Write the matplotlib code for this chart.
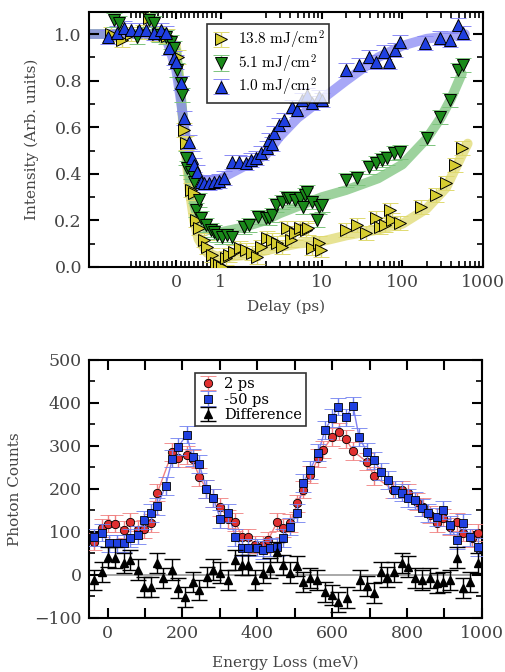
import matplotlib
matplotlib.use("Agg")
import matplotlib.pyplot as plt
import numpy as np
from matplotlib.ticker import FixedLocator, FixedFormatter, MultipleLocator

plt.rcParams["font.family"] = "serif"
plt.rcParams["font.serif"] = ["DejaVu Serif"]
plt.rcParams["mathtext.fontset"] = "cm"

# ---- top panel: intensity vs delay ----
blue_x = [-1.53, -1.33, -1.16, -1.0, -0.82, -0.67, -0.49, -0.33, -0.22, -0.16, -0.04, 0.0,
          0.11, 0.18, 0.29, 0.36, 0.40, 0.47, 0.56, 0.62, 0.73, 0.84, 0.96, 1.07, 1.24, 1.40,
          1.56, 1.67, 1.78, 1.91, 2.06, 2.18, 2.38, 2.52, 2.91, 3.37, 4.23, 4.9, 5.6, 6.6, 7.6,
          9.3, 10.0, 20, 29, 39, 47, 59, 68, 81, 93, 189, 291, 389, 489, 564]
blue_y = [0.987, 1.004, 1.026, 1.017, 1.017, 1.017, 1.004, 1.017, 1.004, 0.94, 0.897, 0.88,
          0.79, 0.64, 0.536, 0.47, 0.438, 0.408, 0.365, 0.36, 0.36, 0.365, 0.369, 0.38, 0.45, 0.45,
          0.446, 0.459, 0.47, 0.49, 0.51, 0.545, 0.53, 0.575, 0.609, 0.63, 0.687, 0.674, 0.717,
          0.738, 0.704, 0.73, 0.717, 0.845, 0.867, 0.90, 0.88, 0.923, 0.88, 0.931, 0.966, 0.961,
          0.983, 0.974, 1.04, 1.004]

green_x = [-1.38, -1.27, -0.87, -0.6, -0.49, -0.38, -0.22, -0.11, -0.04, 0.02, 0.11, 0.13,
           0.22, 0.24, 0.33, 0.40, 0.44, 0.51, 0.56, 0.67, 0.78, 0.84, 0.91, 1.02, 1.13, 1.24,
           1.51, 1.62, 1.84, 2.0, 2.18, 2.38, 2.7, 3.2, 3.7, 3.9, 4.6, 5.3, 5.8, 6.2, 6.6, 7.6,
           8.6, 9.3, 10.0, 20, 27, 39, 47, 56, 65, 78, 93, 200, 291, 389, 489, 564]
green_y = [1.06, 1.047, 0.987, 1.06, 1.047, 0.996, 0.987, 0.966, 0.94, 0.845, 0.79, 0.738,
           0.468, 0.425, 0.408, 0.365, 0.245, 0.288, 0.21, 0.18, 0.159, 0.15, 0.137, 0.129, 0.137,
           0.129, 0.17, 0.18, 0.215, 0.21, 0.21, 0.223, 0.266, 0.279, 0.296, 0.296, 0.288, 0.296,
           0.258, 0.31, 0.322, 0.279, 0.202, 0.258, 0.266, 0.373, 0.382, 0.429, 0.446, 0.459,
           0.47, 0.489, 0.493, 0.554, 0.644, 0.717, 0.845, 0.867]

yellow_x = [-1.45, -1.22, -1.0, -0.75, -0.6, -0.4, -0.2, 0.05, 0.18, 0.22, 0.33, 0.40, 0.44,
            0.51, 0.62, 0.69, 0.80, 0.89, 0.96, 1.02, 1.11, 1.18, 1.29, 1.44, 1.56, 1.69, 1.80,
            1.91, 2.06, 2.38, 2.74, 3.2, 3.7, 4.1, 4.7, 5.4, 6.3, 6.8, 7.6, 9.3, 9.8, 20, 27,
            35, 47, 53, 61, 70, 74, 93, 169, 259, 348, 455, 547]
yellow_y = [1.0, 0.974, 1.0, 1.01, 1.07, 1.0, 0.99, 0.9, 0.588, 0.532, 0.33, 0.318, 0.20,
            0.167, 0.116, 0.086, 0.05, 0.017, 0.009, 0.0, 0.039, 0.05, 0.064, 0.082, 0.073, 0.06,
            0.043, 0.086, 0.124, 0.116, 0.103, 0.086, 0.167, 0.116, 0.146, 0.167, 0.159, 0.167,
            0.082, 0.103, 0.073, 0.159, 0.18, 0.146, 0.21, 0.172, 0.18, 0.245, 0.20, 0.189,
            0.258, 0.309, 0.36, 0.438, 0.51]

# fitted curves
blue_fit_x = [-2, -0.5, -0.2, 0, 0.1, 0.2, 0.3, 0.4, 0.5, 0.7, 1, 1.5, 2, 3, 5, 10, 20, 50,
              100, 200, 600]
blue_fit_y = [1.0, 1.0, 0.97, 0.85, 0.72, 0.58, 0.47, 0.41, 0.38, 0.37, 0.38, 0.43, 0.48,
              0.56, 0.64, 0.72, 0.80, 0.90, 0.95, 0.98, 1.0]
green_fit_x = [-2, -0.3, 0, 0.1, 0.2, 0.3, 0.4, 0.5, 0.7, 1, 1.5, 2, 3, 5, 10, 20, 50, 100,
               200, 300, 400, 550]
green_fit_y = [1.0, 1.0, 0.93, 0.75, 0.55, 0.38, 0.27, 0.2, 0.16, 0.15, 0.17, 0.2, 0.23,
               0.26, 0.30, 0.33, 0.38, 0.44, 0.55, 0.64, 0.72, 0.83]
yellow_fit_x = [-2, -0.3, 0, 0.1, 0.2, 0.3, 0.4, 0.5, 0.7, 1, 1.5, 2, 3, 5, 10, 20, 50, 100,
                200, 350, 550, 650]
yellow_fit_y = [1.0, 1.0, 0.95, 0.75, 0.52, 0.33, 0.2, 0.12, 0.06, 0.04, 0.05, 0.07, 0.085,
                0.1, 0.11, 0.135, 0.16, 0.185, 0.25, 0.34, 0.48, 0.53]
top_err = 0.03

# ---- bottom panel: RIXS spectra ----
red_E = [-35, -16, 0, 21, 43, 61, 80, 96, 115, 133, 173, 189, 211, 227, 245, 264, 283, 301,
         323, 341, 360, 376, 395, 416, 429, 453, 469, 488, 507, 523, 541, 563, 576, 600, 619,
         637, 656, 693, 712, 763, 787, 803, 827, 843, 861, 880, 896, 915, 933, 949, 973, 989]
red_C = [77, 109, 119, 119, 105, 123, 105, 107, 121, 191, 286, 272, 279, 270, 228, 200, 179,
         158, 130, 123, 88, 88, 70, 70, 81, 123, 109, 121, 167, 198, 233, 272, 291, 321, 333,
         316, 288, 263, 230, 198, 198, 191, 170, 158, 140, 121, 133, 112, 123, 98, 86, 98]
blue_E = [-35, -16, 3, 24, 43, 61, 80, 96, 115, 133, 155, 173, 189, 211, 227, 245, 264, 283,
          301, 323, 341, 360, 376, 400, 416, 435, 453, 469, 488, 507, 523, 541, 563, 581, 600,
          616, 637, 656, 672, 693, 712, 731, 749, 768, 787, 803, 821, 840, 856, 880, 896, 915,
          933, 949, 968, 989]
blue_C = [88, 98, 74, 74, 74, 86, 93, 128, 144, 160, 207, 270, 298, 326, 274, 258, 200, 179,
          130, 144, 88, 63, 63, 63, 58, 63, 65, 86, 112, 144, 214, 244, 284, 337, 365, 391, 367,
          393, 321, 286, 267, 240, 221, 198, 191, 179, 174, 156, 144, 135, 151, 116, 81, 121,
          88, 65]
diff_E = [-35, -16, 0, 21, 43, 61, 80, 96, 115, 133, 149, 171, 189, 208, 229, 245, 267, 283,
          301, 323, 341, 360, 376, 395, 416, 435, 453, 469, 488, 507, 523, 541, 560, 581, 600,
          616, 640, 675, 693, 712, 731, 747, 765, 787, 803, 821, 840, 861, 880, 896, 915, 933,
          949, 968, 989]
diff_C = [-12, 7, 42, 40, 28, 35, 12, -28, -28, 28, -7, 12, -30, -51, -16, -35, -5, 12, 5,
          -12, 35, 23, 23, -12, 5, 16, 53, 23, 5, 21, -16, -7, -12, -40, -47, -63, -53, -12,
          -26, -42, 7, -5, 7, 28, 19, -7, -12, -7, -19, -16, -12, 40, -30, -16, 28]
spec_err = 20
diff_err = 24

text_col = "#444444"
fig = plt.figure(figsize=(5.05, 6.72), dpi=100)
ax1 = fig.add_axes([0.176, 0.6027, 0.780, 0.3795])
ax2 = fig.add_axes([0.176, 0.0804, 0.778, 0.384])

series = [
    (yellow_x, yellow_y, yellow_fit_x, yellow_fit_y, ">", "#d6cc30", "#e0da70", r"$\mathrm{13.8\ mJ/cm^2}$"),
    (green_x, green_y, green_fit_x, green_fit_y, "v", "#1a8a1a", "#7cc47c", r"$\mathrm{5.1\ mJ/cm^2}$"),
    (blue_x, blue_y, blue_fit_x, blue_fit_y, "^", "#1f3fe0", "#8a8af5", r"$\mathrm{1.0\ mJ/cm^2}$"),
]
for x, y, fx, fy, m, c, light, lab in series:
    ax1.plot(fx, fy, "-", color=light, lw=7, alpha=0.75, solid_capstyle="round", zorder=1)
for x, y, fx, fy, m, c, light, lab in series:
    ax1.errorbar(x, y, yerr=top_err, fmt=m, color=c, mec="k", mew=0.7, ms=8,
                 ecolor=light, elinewidth=1, capsize=6, capthick=1, label=lab, zorder=3)

ax1.set_xscale("symlog", linthresh=2, linscale=1)
ax1.set_xlim(-1.95, 1000)
ax1.set_ylim(0, 1.095)
ax1.xaxis.set_major_locator(FixedLocator([0, 1, 10, 100, 1000]))
ax1.xaxis.set_major_formatter(FixedFormatter(["0", "1", "10", "100", "1000"]))
minors = list(np.arange(-1.0, 1.0, 0.1)) + [d * 10 ** k for k in range(3) for d in range(2, 10) if d * 10 ** k >= 2]
ax1.xaxis.set_minor_locator(FixedLocator(minors))
ax1.yaxis.set_major_locator(MultipleLocator(0.2))
ax1.yaxis.set_minor_locator(MultipleLocator(0.1))
ax1.set_xlabel("Delay (ps)", fontsize=11, color=text_col, labelpad=6)
ax1.set_ylabel("Intensity (Arb. units)", fontsize=11, color=text_col, labelpad=11)
ax1.legend(loc="upper left", bbox_to_anchor=(0.30, 0.953), borderaxespad=0, fontsize=11,
           frameon=True, fancybox=False, edgecolor="k", handlelength=1.2, handletextpad=0.5,
           labelspacing=0.1, borderpad=0.3).get_frame().set_linewidth(1.2)

# bottom panel
ax2.axhline(0, color="#999999", lw=1.2, zorder=1)
ax2.plot(red_E, red_C, "-", color="#f06060", lw=1, alpha=0.8, zorder=2)
ax2.plot(blue_E, blue_C, "-", color="#6060f0", lw=1, alpha=0.8, zorder=2)
ax2.errorbar(red_E, red_C, yerr=spec_err, fmt="o", color="#e03030", mec="k", mew=0.6, ms=6,
             ecolor="#f08080", elinewidth=1, capsize=5.5, label="2 ps", zorder=3)
ax2.errorbar(blue_E, blue_C, yerr=spec_err, fmt="s", color="#2040e0", mec="k", mew=0.6, ms=6,
             ecolor="#7080f0", elinewidth=1, capsize=5.5, label="-50 ps", zorder=4)
ax2.errorbar(diff_E, diff_C, yerr=diff_err, fmt="^", color="k", mec="k", ms=6,
             ecolor="k", elinewidth=1, capsize=5.5, label="Difference", zorder=5)
ax2.set_xlim(-50, 1000)
ax2.set_ylim(-100, 500)
ax2.xaxis.set_major_locator(MultipleLocator(200))
ax2.xaxis.set_minor_locator(MultipleLocator(100))
ax2.yaxis.set_major_locator(MultipleLocator(100))
ax2.yaxis.set_minor_locator(MultipleLocator(50))
ax2.set_xlabel("Energy Loss (meV)", fontsize=11, color=text_col, labelpad=10)
ax2.set_ylabel("Photon Counts", fontsize=11, color=text_col, labelpad=9)
ax2.legend(loc="upper left", bbox_to_anchor=(0.27, 0.95), borderaxespad=0, fontsize=10.5,
           frameon=True, fancybox=False, edgecolor="k", handlelength=1.2, handletextpad=0.5,
           labelspacing=0.1, borderpad=0.3).get_frame().set_linewidth(1.2)

for ax in (ax1, ax2):
    for s in ax.spines.values():
        s.set_linewidth(1.5)
    ax.tick_params(which="both", direction="in", top=True, right=True, labelsize=12.5,
                   colors="k", labelcolor=text_col, pad=5)
    ax.tick_params(which="major", length=7, width=1.5)
    ax.tick_params(which="minor", length=4.5, width=1.2)
ax1.tick_params(axis="x", which="major", length=5)
ax2.tick_params(axis="x", which="minor", length=7, width=1.5)

fig.savefig("out.png", dpi=100)
